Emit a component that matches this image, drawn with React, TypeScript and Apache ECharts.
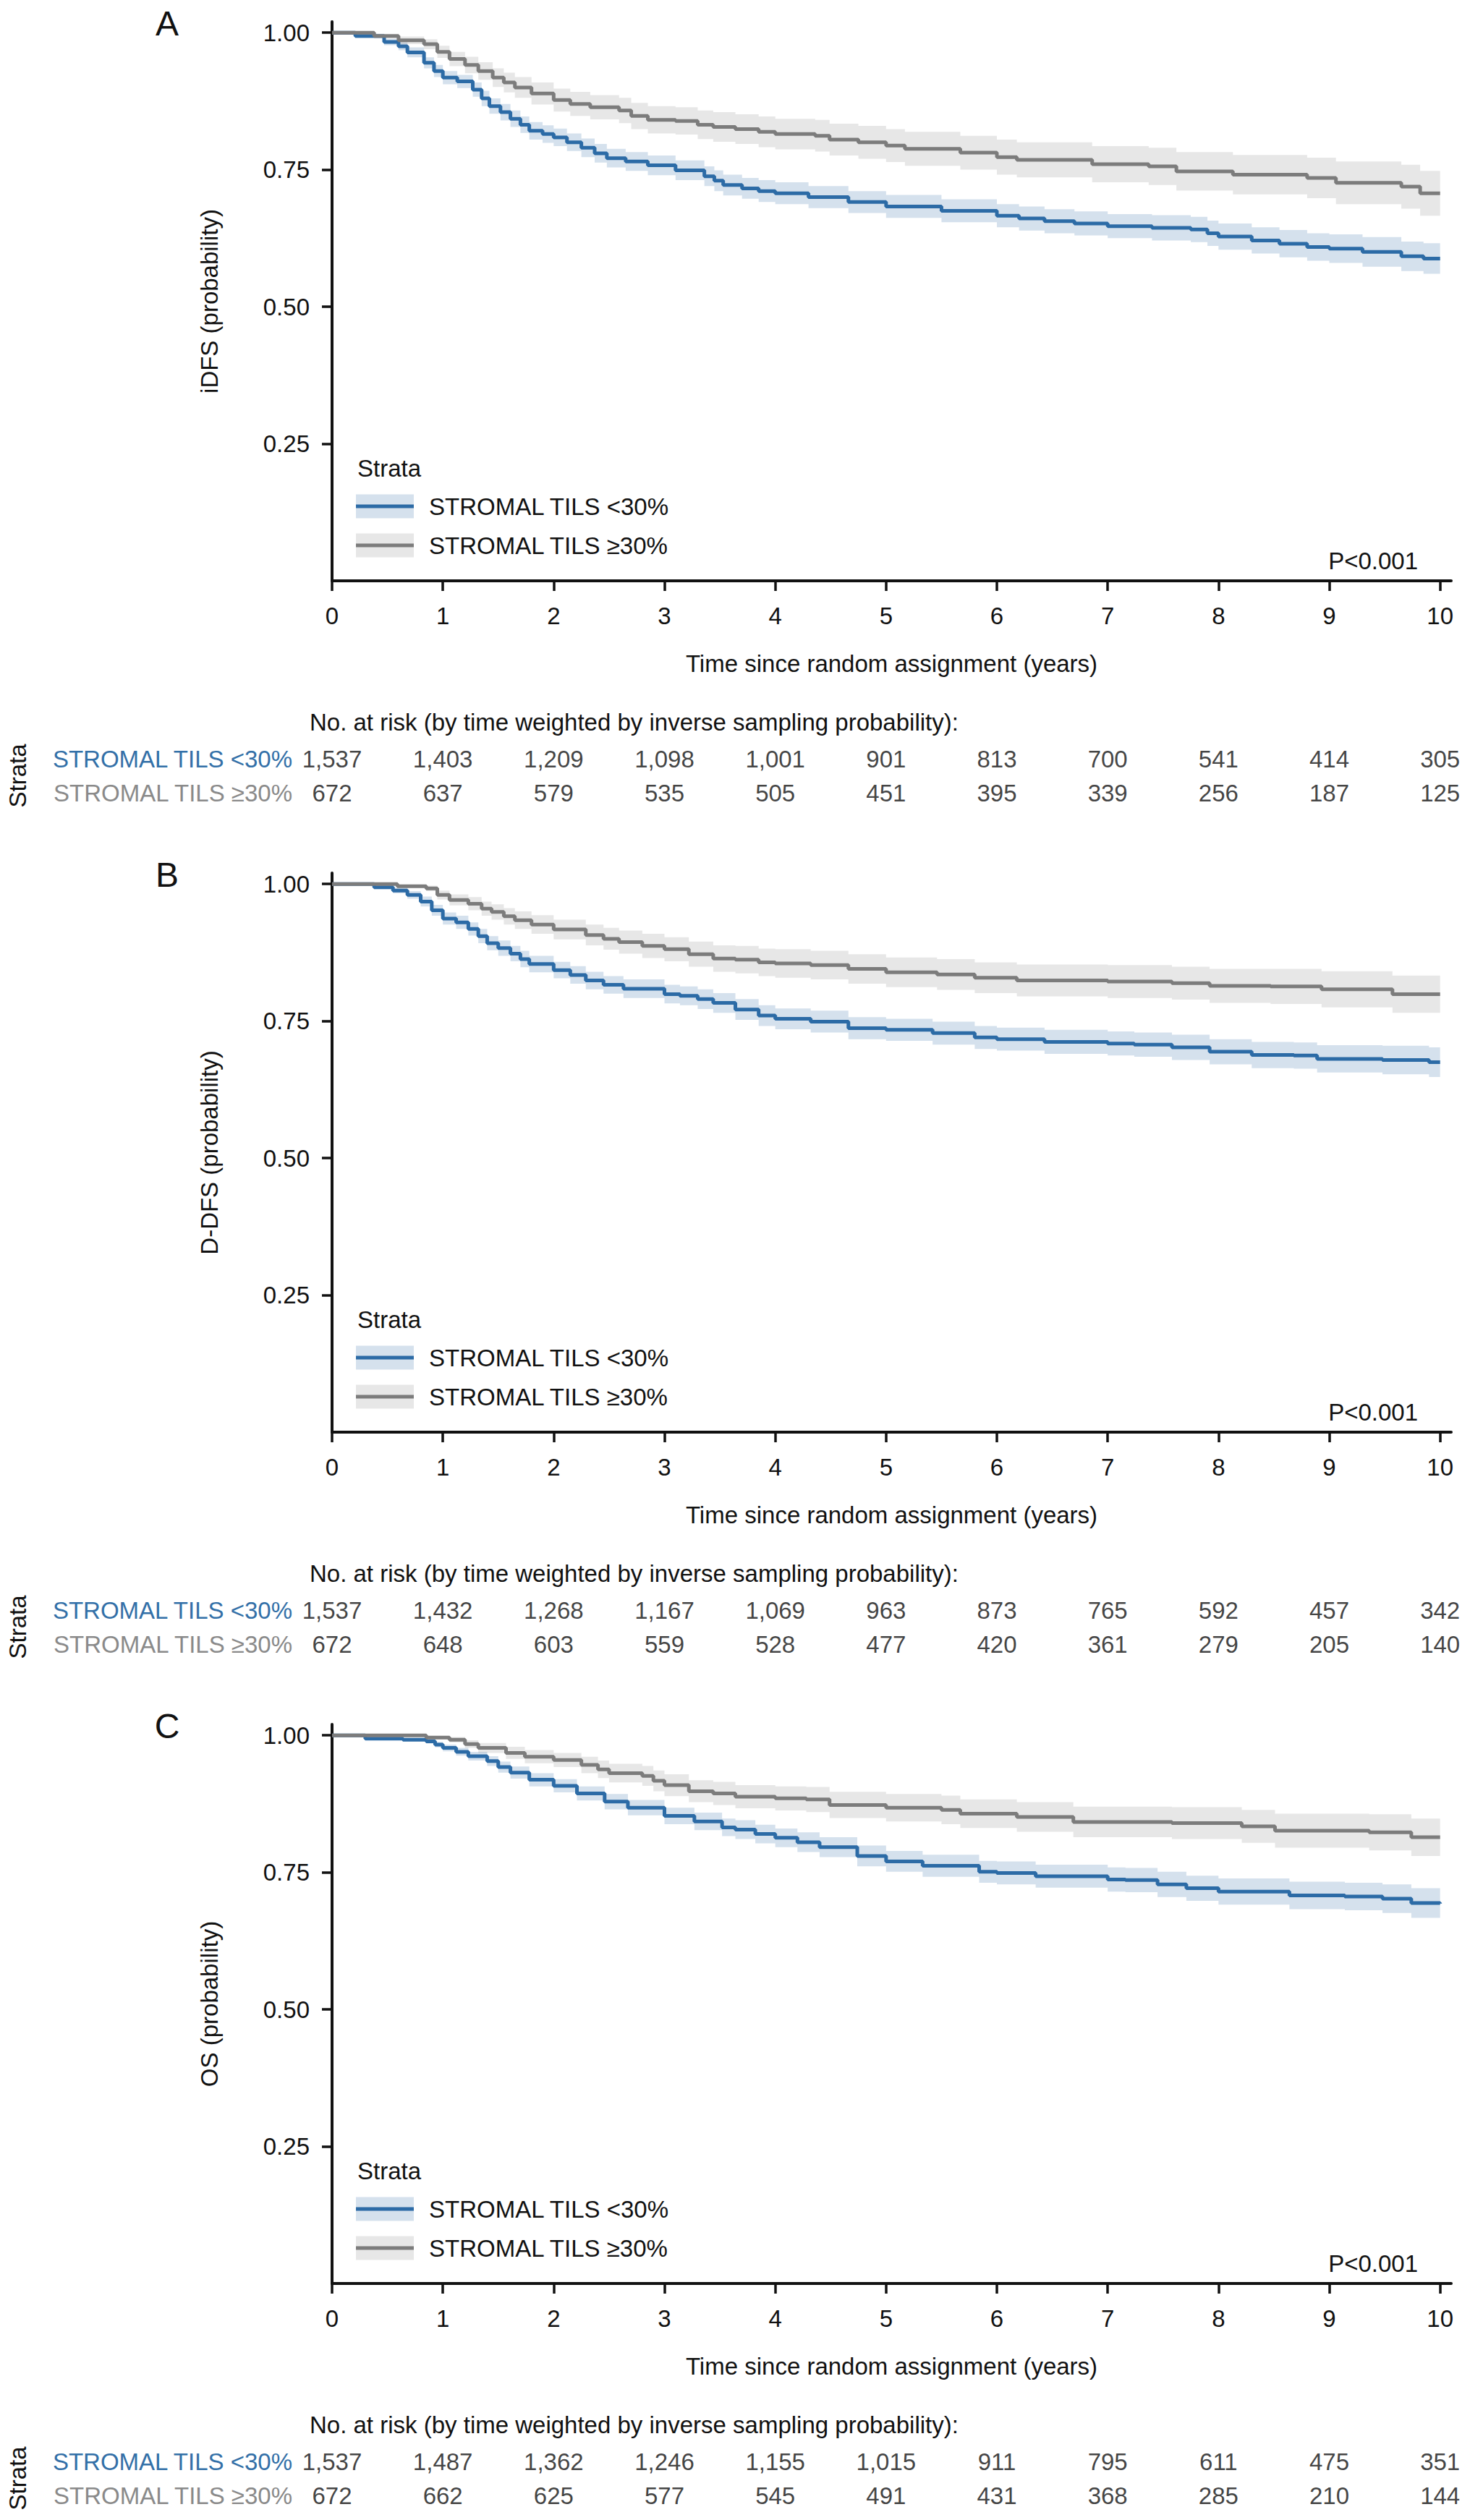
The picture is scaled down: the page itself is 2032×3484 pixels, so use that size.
import React, { useEffect, useRef } from "react";
import * as echarts from "echarts";

// ---------- text ----------
const panelLetters = ["A", "B", "C"];
const yTitles = ["iDFS (probability)", "D-DFS (probability)", "OS (probability)"];
const xTitle = "Time since random assignment (years)";
const riskTitle = "No. at risk (by time weighted by inverse sampling probability):";
const pValues = ["P<0.001", "P<0.001", "P<0.001"];
const strata = ["STROMAL TILS <30%", "STROMAL TILS \u226530%"];
const legendTitle = "Strata";

// ---------- axes ----------
const years = [0, 1, 2, 3, 4, 5, 6, 7, 8, 9, 10];
const yTickValues = [0.25, 0.5, 0.75, 1.0];

// ---------- curves: [time, survival, CI half-width] ----------
const idfsLow = [
  [0, 1.0, 0.0], [0.21, 0.994, 0.004], [0.47, 0.983, 0.006], [0.6, 0.975, 0.007], [0.68, 0.964, 0.009],
  [0.83, 0.945, 0.01], [0.92, 0.93, 0.011], [1.0, 0.918, 0.012], [1.13, 0.911, 0.012], [1.27, 0.896, 0.013],
  [1.35, 0.88, 0.014], [1.42, 0.866, 0.014], [1.52, 0.855, 0.015], [1.61, 0.843, 0.015], [1.7, 0.832, 0.015],
  [1.78, 0.821, 0.016], [1.9, 0.815, 0.016], [2.0, 0.809, 0.016], [2.12, 0.8, 0.016], [2.25, 0.79, 0.017],
  [2.37, 0.78, 0.017], [2.48, 0.771, 0.017], [2.65, 0.765, 0.017], [2.85, 0.758, 0.018], [3.1, 0.749, 0.018],
  [3.36, 0.738, 0.018], [3.45, 0.73, 0.019], [3.53, 0.722, 0.019], [3.7, 0.716, 0.019], [3.85, 0.711, 0.02],
  [4.0, 0.707, 0.02], [4.3, 0.7, 0.02], [4.66, 0.691, 0.02], [5.0, 0.683, 0.021], [5.5, 0.675, 0.021],
  [6.0, 0.666, 0.021], [6.2, 0.661, 0.022], [6.43, 0.656, 0.022], [6.7, 0.652, 0.022], [7.0, 0.647, 0.022],
  [7.4, 0.644, 0.023], [7.75, 0.641, 0.023], [7.9, 0.634, 0.023], [8.0, 0.628, 0.024], [8.3, 0.621, 0.024],
  [8.55, 0.615, 0.025], [8.8, 0.609, 0.025], [9.0, 0.606, 0.026], [9.3, 0.6, 0.027], [9.65, 0.592, 0.027],
  [9.85, 0.588, 0.028], [10.0, 0.588, 0.028],
];
const idfsHigh = [
  [0, 1.0, 0.0], [0.38, 0.994, 0.004], [0.6, 0.986, 0.007], [0.83, 0.979, 0.009], [0.95, 0.965, 0.011],
  [1.06, 0.952, 0.013], [1.2, 0.941, 0.015], [1.32, 0.93, 0.016], [1.45, 0.918, 0.017], [1.55, 0.909, 0.018],
  [1.65, 0.9, 0.019], [1.8, 0.889, 0.02], [2.0, 0.877, 0.021], [2.15, 0.87, 0.022], [2.33, 0.864, 0.022],
  [2.59, 0.858, 0.023], [2.7, 0.848, 0.024], [2.85, 0.841, 0.025], [3.1, 0.839, 0.025], [3.3, 0.832, 0.026],
  [3.44, 0.828, 0.027], [3.64, 0.824, 0.027], [3.85, 0.819, 0.028], [4.0, 0.815, 0.028], [4.36, 0.812, 0.029],
  [4.49, 0.805, 0.029], [4.75, 0.8, 0.03], [5.0, 0.794, 0.03], [5.17, 0.788, 0.031], [5.67, 0.781, 0.031],
  [6.0, 0.773, 0.032], [6.18, 0.768, 0.032], [6.86, 0.76, 0.033], [7.37, 0.756, 0.034], [7.62, 0.747, 0.035],
  [8.13, 0.741, 0.036], [8.8, 0.735, 0.037], [9.06, 0.726, 0.039], [9.65, 0.719, 0.04], [9.82, 0.707, 0.041],
  [10.0, 0.707, 0.041],
];
const ddfsLow = [
  [0, 1.0, 0.0], [0.38, 0.994, 0.003], [0.55, 0.988, 0.005], [0.68, 0.98, 0.007], [0.8, 0.968, 0.009],
  [0.9, 0.952, 0.01], [1.0, 0.937, 0.011], [1.12, 0.93, 0.012], [1.23, 0.918, 0.012], [1.32, 0.905, 0.013],
  [1.4, 0.892, 0.013], [1.5, 0.883, 0.014], [1.61, 0.873, 0.014], [1.7, 0.863, 0.015], [1.78, 0.854, 0.015],
  [2.0, 0.843, 0.015], [2.15, 0.834, 0.016], [2.29, 0.824, 0.016], [2.45, 0.816, 0.016], [2.63, 0.809, 0.017],
  [3.0, 0.799, 0.017], [3.14, 0.796, 0.017], [3.3, 0.79, 0.018], [3.44, 0.783, 0.018], [3.64, 0.771, 0.019],
  [3.85, 0.76, 0.019], [4.0, 0.754, 0.019], [4.32, 0.749, 0.02], [4.66, 0.737, 0.02], [5.0, 0.734, 0.02],
  [5.42, 0.728, 0.021], [5.8, 0.72, 0.021], [6.0, 0.717, 0.021], [6.43, 0.712, 0.022], [7.0, 0.709, 0.022],
  [7.24, 0.707, 0.022], [7.58, 0.702, 0.023], [7.92, 0.694, 0.023], [8.3, 0.688, 0.024], [8.68, 0.687, 0.024],
  [8.89, 0.681, 0.025], [9.48, 0.679, 0.026], [9.9, 0.675, 0.027], [10.0, 0.675, 0.027],
];
const ddfsHigh = [
  [0, 1.0, 0.0], [0.59, 0.996, 0.003], [0.85, 0.992, 0.005], [0.95, 0.98, 0.008], [1.06, 0.971, 0.01],
  [1.23, 0.964, 0.012], [1.35, 0.955, 0.013], [1.44, 0.949, 0.014], [1.55, 0.941, 0.015], [1.65, 0.934, 0.016],
  [1.8, 0.926, 0.017], [2.0, 0.917, 0.018], [2.29, 0.907, 0.019], [2.45, 0.9, 0.02], [2.59, 0.894, 0.021],
  [2.8, 0.887, 0.022], [3.0, 0.881, 0.022], [3.22, 0.872, 0.023], [3.44, 0.864, 0.024], [3.64, 0.862, 0.025],
  [3.85, 0.857, 0.025], [4.0, 0.855, 0.026], [4.32, 0.852, 0.026], [4.66, 0.845, 0.027], [5.0, 0.839, 0.027],
  [5.46, 0.835, 0.028], [5.8, 0.829, 0.028], [6.18, 0.824, 0.029], [7.0, 0.822, 0.03], [7.58, 0.819, 0.03],
  [7.92, 0.814, 0.031], [8.47, 0.813, 0.032], [8.93, 0.808, 0.033], [9.57, 0.799, 0.034], [10.0, 0.799, 0.034],
];
const osLow = [
  [0, 1.0, 0.0], [0.3, 0.994, 0.002], [0.64, 0.992, 0.003], [0.85, 0.989, 0.004], [0.93, 0.983, 0.005],
  [1.0, 0.977, 0.006], [1.12, 0.97, 0.007], [1.23, 0.962, 0.008], [1.4, 0.953, 0.009], [1.5, 0.942, 0.01],
  [1.61, 0.932, 0.011], [1.78, 0.919, 0.012], [2.0, 0.908, 0.012], [2.21, 0.894, 0.013], [2.46, 0.879, 0.014],
  [2.67, 0.868, 0.014], [3.0, 0.853, 0.015], [3.27, 0.843, 0.016], [3.52, 0.832, 0.016], [3.64, 0.828, 0.017],
  [3.82, 0.82, 0.017], [4.0, 0.813, 0.017], [4.2, 0.805, 0.018], [4.4, 0.796, 0.018], [4.74, 0.78, 0.019],
  [5.0, 0.77, 0.019], [5.33, 0.762, 0.02], [5.84, 0.751, 0.02], [6.0, 0.749, 0.021], [6.35, 0.743, 0.021],
  [7.0, 0.737, 0.022], [7.16, 0.736, 0.022], [7.45, 0.728, 0.023], [7.71, 0.721, 0.023], [8.0, 0.715, 0.024],
  [8.64, 0.708, 0.025], [9.14, 0.706, 0.025], [9.48, 0.702, 0.026], [9.74, 0.694, 0.027], [10.0, 0.693, 0.027],
];
const osHigh = [
  [0, 1.0, 0.0], [0.85, 0.996, 0.003], [1.06, 0.992, 0.005], [1.2, 0.984, 0.007], [1.32, 0.977, 0.009],
  [1.57, 0.968, 0.011], [1.74, 0.961, 0.012], [2.0, 0.955, 0.013], [2.25, 0.946, 0.015], [2.4, 0.938, 0.016],
  [2.5, 0.931, 0.017], [2.8, 0.926, 0.018], [2.9, 0.917, 0.019], [3.0, 0.909, 0.02], [3.22, 0.898, 0.02],
  [3.44, 0.894, 0.021], [3.64, 0.888, 0.021], [4.0, 0.885, 0.022], [4.28, 0.883, 0.023], [4.49, 0.873, 0.024],
  [5.0, 0.868, 0.025], [5.5, 0.864, 0.026], [5.67, 0.857, 0.026], [6.18, 0.851, 0.027], [6.69, 0.842, 0.028],
  [7.58, 0.84, 0.029], [8.21, 0.834, 0.03], [8.51, 0.826, 0.031], [9.36, 0.823, 0.033], [9.74, 0.814, 0.034],
  [10.0, 0.814, 0.034],
];

// ---------- numbers at risk ----------
const riskIdfsLow = [1537, 1403, 1209, 1098, 1001, 901, 813, 700, 541, 414, 305];
const riskIdfsHigh = [672, 637, 579, 535, 505, 451, 395, 339, 256, 187, 125];
const riskDdfsLow = [1537, 1432, 1268, 1167, 1069, 963, 873, 765, 592, 457, 342];
const riskDdfsHigh = [672, 648, 603, 559, 528, 477, 420, 361, 279, 205, 140];
const riskOsLow = [1537, 1487, 1362, 1246, 1155, 1015, 911, 795, 611, 475, 351];
const riskOsHigh = [672, 662, 625, 577, 545, 491, 431, 368, 285, 210, 144];

const panels = [
  { low: idfsLow, high: idfsHigh, riskLow: riskIdfsLow, riskHigh: riskIdfsHigh },
  { low: ddfsLow, high: ddfsHigh, riskLow: riskDdfsLow, riskHigh: riskDdfsHigh },
  { low: osLow, high: osHigh, riskLow: riskOsLow, riskHigh: riskOsHigh },
];

// ---------- style / layout ----------
const FONT = "'Liberation Sans', Arial, Helvetica, sans-serif";
const FS = 33;
const TEXT = "#111111";
const BLUE = "#2c6ba6";
const GRAY = "#7c7c7c";
const BLUE_BAND = "rgba(44,107,166,0.2)";
const GRAY_BAND = "rgba(124,124,124,0.18)";
const BLUE_TXT = "#3370a8";
const GRAY_TXT = "#8a8a8a";

const W = 2032;
const H = 3484;
const X0 = 459;
const GRID_W = 1547;
const XMAX = 10.1;
const YMAX = 1.02;
const PLOT_H = 773;
const AXIS_Y = [803, 1980, 3157];

function bandSeries(curve: number[][], color: string, idx: number) {
  return {
    type: "custom",
    xAxisIndex: idx,
    yAxisIndex: idx,
    silent: true,
    z: 1,
    data: curve.map((d) => [d[0], d[1] - d[2], d[1] + d[2]]),
    encode: { x: 0, y: [1, 2] },
    renderItem: (params: any, api: any) => {
      if (params.dataIndex !== 0) return null;
      const upper: number[][] = [];
      const lower: number[][] = [];
      for (let i = 0; i < curve.length; i++) {
        const t = curve[i][0];
        const lo = curve[i][1] - curve[i][2];
        const hi = curve[i][1] + curve[i][2];
        const tNext = i + 1 < curve.length ? curve[i + 1][0] : t;
        upper.push(api.coord([t, hi]), api.coord([tNext, hi]));
        lower.push(api.coord([t, lo]), api.coord([tNext, lo]));
      }
      const pts = upper.concat(lower.reverse());
      return { type: "polygon", shape: { points: pts }, style: { fill: color } };
    },
  };
}

function lineSeries(curve: number[][], color: string, idx: number) {
  return {
    type: "line",
    xAxisIndex: idx,
    yAxisIndex: idx,
    step: "end",
    symbol: "none",
    silent: true,
    z: 3,
    data: curve.map((d) => [d[0], d[1]]),
    lineStyle: { color, width: 5 },
  };
}

function buildOption() {
  const grids: any[] = [];
  const xAxes: any[] = [];
  const yAxes: any[] = [];
  const series: any[] = [];
  const graphics: any[] = [];

  panels.forEach((pn, p) => {
    const ay = AXIS_Y[p];
    const plotIdx = p * 2;
    const tabIdx = p * 2 + 1;

    // plot grid
    grids.push({ left: X0, top: ay - PLOT_H, width: GRID_W, height: PLOT_H, containLabel: false, outerBoundsMode: "none" });
    xAxes.push({
      type: "value", gridIndex: plotIdx, min: 0, max: XMAX, interval: 1,
      splitLine: { show: false },
      axisLine: { show: true, onZero: false, lineStyle: { color: TEXT, width: 4 } },
      axisTick: { show: true, length: 14, customValues: years, lineStyle: { color: TEXT, width: 3.5 } },
      axisLabel: { show: true, customValues: years, margin: 32, fontSize: FS, fontFamily: FONT, color: TEXT, formatter: (v: number) => String(v) },
      name: xTitle, nameLocation: "middle", nameGap: 98,
      nameTextStyle: { fontSize: FS, fontFamily: FONT, color: TEXT },
    });
    yAxes.push({
      type: "value", gridIndex: plotIdx, min: 0, max: YMAX,
      splitLine: { show: false },
      axisLine: { show: true, onZero: false, lineStyle: { color: TEXT, width: 4 } },
      axisTick: { show: true, length: 14, customValues: yTickValues, lineStyle: { color: TEXT, width: 3.5 } },
      axisLabel: { show: true, customValues: yTickValues, margin: 31, fontSize: FS, fontFamily: FONT, color: TEXT, formatter: (v: number) => v.toFixed(2) },
      name: yTitles[p], nameLocation: "middle", nameRotate: 90, nameGap: 153,
      nameTextStyle: { fontSize: FS, fontFamily: FONT, color: TEXT },
    });

    // risk table grid
    grids.push({ left: X0, top: ay + 222.5, width: GRID_W, height: 94, containLabel: false, outerBoundsMode: "none" });
    xAxes.push({ type: "value", gridIndex: tabIdx, min: 0, max: XMAX, show: false, splitLine: { show: false } });
    yAxes.push({
      type: "category", gridIndex: tabIdx, data: strata, inverse: true,
      axisLine: { show: false }, axisTick: { show: false }, splitLine: { show: false },
      axisLabel: {
        margin: 55, fontSize: FS, fontFamily: FONT,
        color: (v: string) => (v === strata[0] ? BLUE_TXT : GRAY_TXT),
      },
      name: legendTitle, nameLocation: "middle", nameRotate: 90, nameGap: 418,
      nameTextStyle: { fontSize: FS, fontFamily: FONT, color: TEXT },
    });

    series.push(bandSeries(pn.low, BLUE_BAND, plotIdx));
    series.push(bandSeries(pn.high, GRAY_BAND, plotIdx));
    series.push(lineSeries(pn.low, BLUE, plotIdx));
    series.push(lineSeries(pn.high, GRAY, plotIdx));

    const riskData: any[] = [];
    years.forEach((t, i) => {
      riskData.push([t, strata[0], pn.riskLow[i]]);
      riskData.push([t, strata[1], pn.riskHigh[i]]);
    });
    series.push({
      type: "scatter", xAxisIndex: tabIdx, yAxisIndex: tabIdx, silent: true,
      symbolSize: 1, itemStyle: { color: "rgba(0,0,0,0)" },
      data: riskData,
      label: {
        show: true, position: "inside", fontSize: FS, fontFamily: FONT, color: TEXT,
        formatter: (pp: any) => Number(pp.value[2]).toLocaleString("en-US"),
      },
    });

    // panel letter
    graphics.push({ type: "text", x: 231, y: ay - 771, silent: true,
      style: { text: panelLetters[p], fontSize: 48, fontFamily: FONT, fill: TEXT, align: "center", verticalAlign: "middle" } });
    // p-value
    graphics.push({ type: "text", x: 1960, y: ay - 28, silent: true,
      style: { text: pValues[p], fontSize: FS, fontFamily: FONT, fill: TEXT, align: "right", verticalAlign: "middle" } });
    // risk title
    graphics.push({ type: "text", x: 428, y: ay + 195, silent: true,
      style: { text: riskTitle, fontSize: FS, fontFamily: FONT, fill: TEXT, align: "left", verticalAlign: "middle" } });
    // legend
    graphics.push({ type: "text", x: 494, y: ay - 156, silent: true,
      style: { text: legendTitle, fontSize: FS, fontFamily: FONT, fill: TEXT, align: "left", verticalAlign: "middle" } });
    const keys = [
      { y: ay - 103, band: BLUE_BAND, line: BLUE, label: strata[0] },
      { y: ay - 49, band: GRAY_BAND, line: GRAY, label: strata[1] },
    ];
    keys.forEach((k) => {
      graphics.push({ type: "rect", silent: true, shape: { x: 492, y: k.y - 16.5, width: 80, height: 33 }, style: { fill: k.band } });
      graphics.push({ type: "line", silent: true, shape: { x1: 492, y1: k.y, x2: 572, y2: k.y }, style: { stroke: k.line, lineWidth: 5 } });
      graphics.push({ type: "text", x: 593, y: k.y, silent: true,
        style: { text: k.label, fontSize: FS, fontFamily: FONT, fill: TEXT, align: "left", verticalAlign: "middle" } });
    });
  });

  return {
    animation: false,
    backgroundColor: "#ffffff",
    textStyle: { fontFamily: FONT },
    grid: grids,
    xAxis: xAxes,
    yAxis: yAxes,
    series,
    graphic: { elements: graphics },
  };
}

export default function App() {
  const ref = useRef<HTMLDivElement | null>(null);
  useEffect(() => {
    if (!ref.current) return;
    const chart = echarts.init(ref.current, null, { renderer: "svg" });
    chart.setOption(buildOption() as any);
    return () => chart.dispose();
  }, []);
  return <div ref={ref} style={{ position: "absolute", left: 0, top: 0, width: W, height: H, background: "#fff" }} />;
}
